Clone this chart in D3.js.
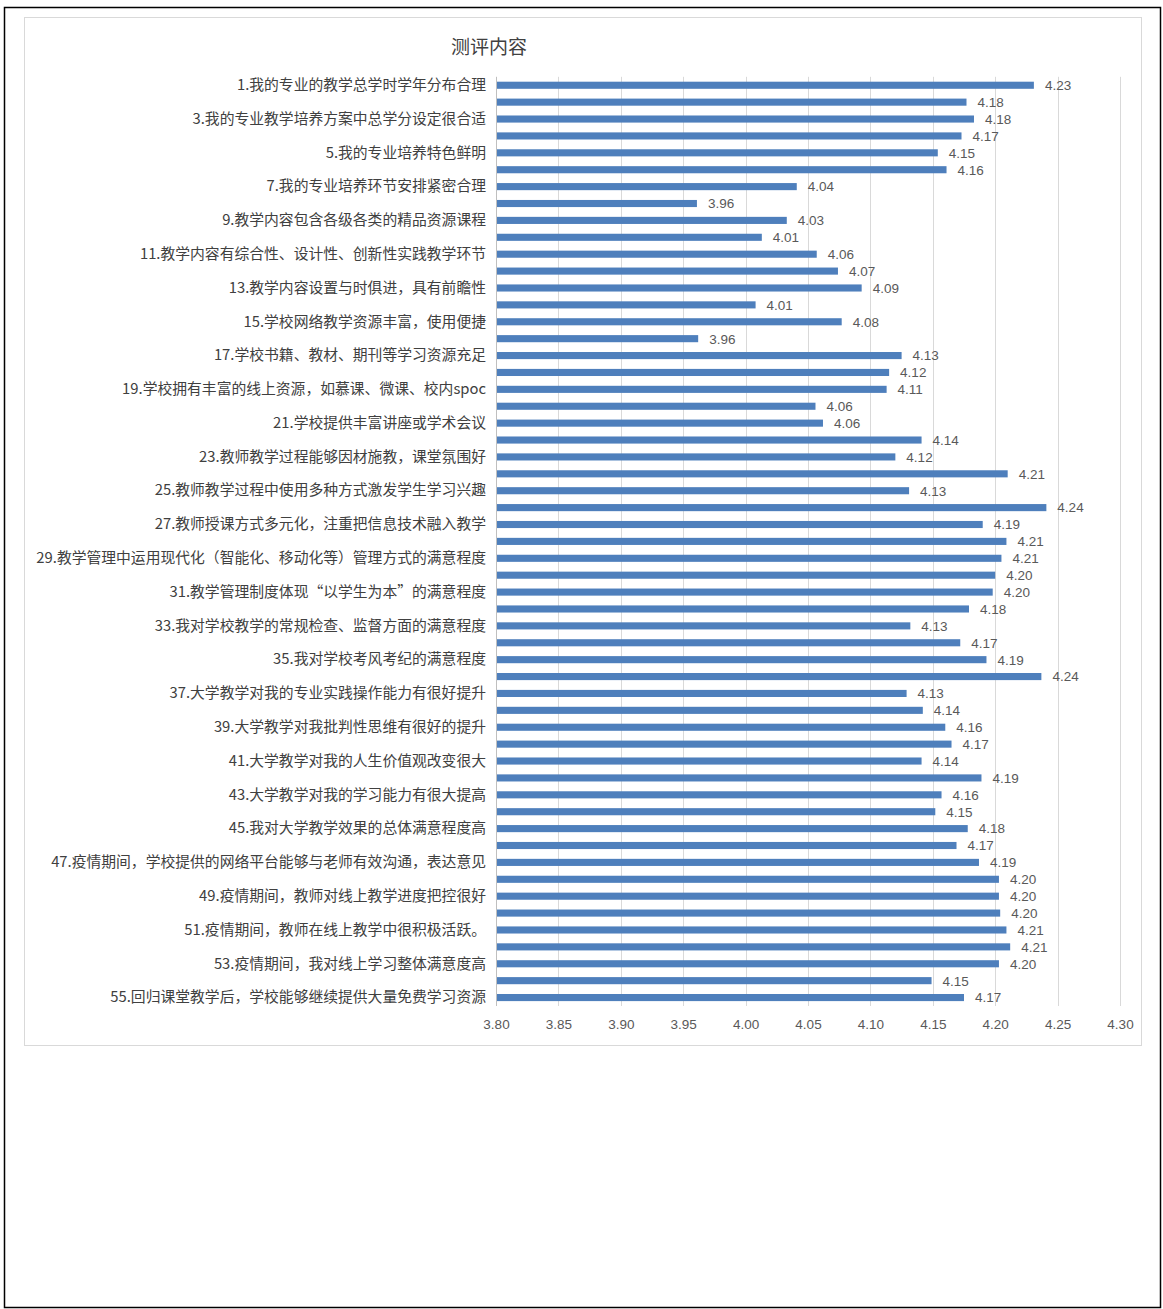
<!DOCTYPE html>
<html>
<head>
<meta charset="utf-8">
<script src="https://cdn.jsdelivr.net/npm/d3@7/dist/d3.min.js"></script>
<style>
  html, body { margin: 0; padding: 0; background: #fff; }
  svg { display: block; }
</style>
</head>
<body>
<svg id="chart" width="1163" height="1309"></svg>
<script>
const title = "测评内容";
const categories = [
  "1.我的专业的教学总学时学年分布合理", "2.",
  "3.我的专业教学培养方案中总学分设定很合适", "4.",
  "5.我的专业培养特色鲜明", "6.",
  "7.我的专业培养环节安排紧密合理", "8.",
  "9.教学内容包含各级各类的精品资源课程", "10.",
  "11.教学内容有综合性、设计性、创新性实践教学环节", "12.",
  "13.教学内容设置与时俱进，具有前瞻性", "14.",
  "15.学校网络教学资源丰富，使用便捷", "16.",
  "17.学校书籍、教材、期刊等学习资源充足", "18.",
  "19.学校拥有丰富的线上资源，如慕课、微课、校内spoc", "20.",
  "21.学校提供丰富讲座或学术会议", "22.",
  "23.教师教学过程能够因材施教，课堂氛围好", "24.",
  "25.教师教学过程中使用多种方式激发学生学习兴趣", "26.",
  "27.教师授课方式多元化，注重把信息技术融入教学", "28.",
  "29.教学管理中运用现代化（智能化、移动化等）管理方式的满意程度", "30.",
  "31.教学管理制度体现“以学生为本”的满意程度", "32.",
  "33.我对学校教学的常规检查、监督方面的满意程度", "34.",
  "35.我对学校考风考纪的满意程度", "36.",
  "37.大学教学对我的专业实践操作能力有很好提升", "38.",
  "39.大学教学对我批判性思维有很好的提升", "40.",
  "41.大学教学对我的人生价值观改变很大", "42.",
  "43.大学教学对我的学习能力有很大提高", "44.",
  "45.我对大学教学效果的总体满意程度高", "46.",
  "47.疫情期间，学校提供的网络平台能够与老师有效沟通，表达意见", "48.",
  "49.疫情期间，教师对线上教学进度把控很好", "50.",
  "51.疫情期间，教师在线上教学中很积极活跃。", "52.",
  "53.疫情期间，我对线上学习整体满意度高", "54.",
  "55.回归课堂教学后，学校能够继续提供大量免费学习资源"
];
const values = [
  4.231, 4.177, 4.183, 4.173, 4.154, 4.161, 4.041, 3.961, 4.033, 4.013,
  4.057, 4.074, 4.093, 4.008, 4.077, 3.962, 4.125, 4.115, 4.113, 4.056,
  4.062, 4.141, 4.120, 4.210, 4.131, 4.241, 4.190, 4.209, 4.205, 4.200,
  4.198, 4.179, 4.132, 4.172, 4.193, 4.237, 4.129, 4.142, 4.160, 4.165,
  4.141, 4.189, 4.157, 4.152, 4.178, 4.169, 4.187, 4.203, 4.203, 4.204,
  4.209, 4.212, 4.203, 4.149, 4.175
];
const xTicks = [3.80, 3.85, 3.90, 3.95, 4.00, 4.05, 4.10, 4.15, 4.20, 4.25, 4.30];
const xDomain = [3.80, 4.30];

const data = categories.map((c, i) => ({ cat: c, value: values[i], idx: i }));

const svg = d3.select("#chart");

// page border and chart area border
svg.append("rect").attr("x", 4.5).attr("y", 7.5).attr("width", 1156).attr("height", 1300)
  .attr("fill", "none").attr("stroke", "#000").attr("stroke-width", 1.5);
svg.append("rect").attr("x", 24.5).attr("y", 17.5).attr("width", 1117).attr("height", 1028)
  .attr("fill", "#fff").attr("stroke", "#d9d9d9").attr("stroke-width", 1);

const x = d3.scaleLinear().domain(xDomain).range([496, 1120]);
const y = d3.scaleBand().domain(categories).range([76.8, 1006])
  .paddingInner(0.58).paddingOuter(0.29);

// gridlines
svg.append("g").selectAll("line").data(xTicks.slice(1)).join("line")
  .attr("x1", d => Math.round(x(d)) + 0.5).attr("x2", d => Math.round(x(d)) + 0.5)
  .attr("y1", 76.8).attr("y2", 1006)
  .attr("stroke", "#d9d9d9").attr("stroke-width", 1);

// bars
svg.append("g").selectAll("rect").data(data).join("rect")
  .attr("x", x(xDomain[0]))
  .attr("y", d => y(d.cat))
  .attr("width", d => x(d.value) - x(xDomain[0]))
  .attr("height", y.bandwidth())
  .attr("fill", "#4e7fbc");

// value labels
svg.append("g").selectAll("text").data(data).join("text")
  .attr("x", d => x(d.value) + 11)
  .attr("y", d => y(d.cat) + y.bandwidth() / 2)
  .attr("dy", "0.36em")
  .attr("font-family", "'Liberation Sans', Arial, sans-serif")
  .attr("font-size", 13.5)
  .attr("fill", "#595959")
  .text(d => d3.format(".2f")(d.value));

// y axis
const yAxis = svg.append("g").attr("transform", `translate(${x(xDomain[0])},0)`)
  .call(d3.axisLeft(y).tickSize(0).tickPadding(10)
    .tickFormat((d, i) => (i % 2 === 0 ? d : "")));
yAxis.select(".domain").attr("stroke", "#bfbfbf").attr("d", `M0.5,76.8V1006`);
yAxis.selectAll("text")
  .attr("font-family", "'Noto Sans CJK SC', sans-serif")
  .attr("font-size", 14.8)
  .attr("fill", "#404040");

// x axis
const xAxis = svg.append("g").attr("transform", "translate(0,1006)")
  .call(d3.axisBottom(x).tickValues(xTicks).tickSize(0).tickPadding(13)
    .tickFormat(d3.format(".2f")));
xAxis.select(".domain").remove();
xAxis.selectAll("text")
  .attr("font-family", "'Liberation Sans', Arial, sans-serif")
  .attr("font-size", 13.5)
  .attr("fill", "#595959");

// title
svg.append("text").attr("x", 489).attr("y", 47).attr("dy", "0.35em")
  .attr("text-anchor", "middle")
  .attr("font-family", "'Noto Sans CJK SC', sans-serif")
  .attr("font-size", 19)
  .attr("fill", "#404040")
  .text(title);
</script>
</body>
</html>
